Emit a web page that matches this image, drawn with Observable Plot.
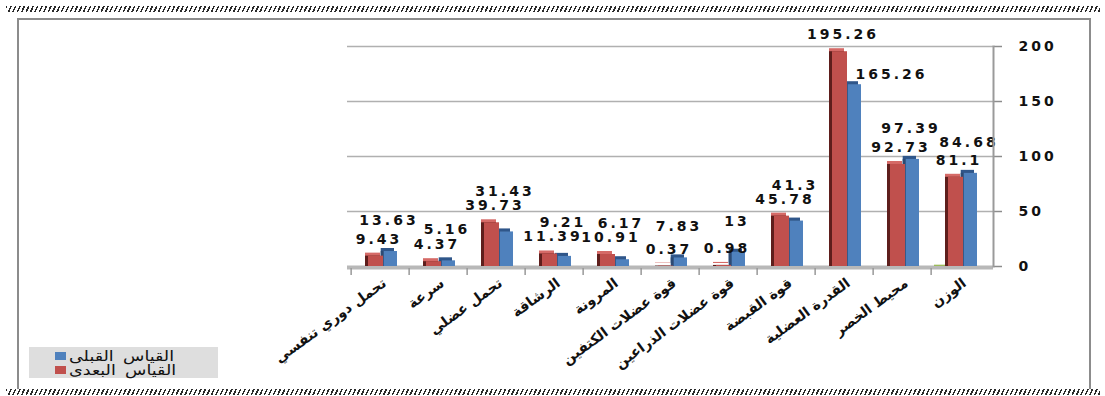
<!DOCTYPE html>
<html>
<head>
<meta charset="utf-8">
<script src="https://cdn.jsdelivr.net/npm/d3@7"></script>
<script src="https://cdn.jsdelivr.net/npm/@observablehq/plot@0.6"></script>
<style>
  html, body { margin: 0; padding: 0; background: #fff; }
  #wrap { position: relative; width: 1105px; height: 396px; overflow: hidden; background: #fff; }
  #frame { position: absolute; left: 17px; top: 18px; width: 1074px; height: 372px; border: 2px solid #8c8c8c; border-bottom: none; box-sizing: border-box; }
  .hatch { position: absolute; left: 6px; width: 1094px; height: 6px;
    background: repeating-linear-gradient(115deg, #2a2a2a 0 1.5px, #ffffff 1.5px 4px); }
  #chart { position: absolute; left: 0; top: 0; }
  #legend { position: absolute; left: 29px; top: 347px; width: 189px; height: 31px; background: #dedede;
    font-family: "DejaVu Sans", sans-serif; font-size: 14px; color: #111; }
  .item { position: absolute; left: 26px; height: 14px; display: flex; align-items: center; white-space: nowrap; }
  .sw { width: 11px; height: 8px; margin-right: 3px; flex: none; }
  .lt { display: inline-block; transform: scaleX(1.25); transform-origin: left center; word-spacing: 3px; }
  .num { letter-spacing: 3px; }
</style>
</head>
<body>
<div id="wrap">
  <div id="frame"></div>
  <div class="hatch" style="top:6px"></div>
  <div class="hatch" style="top:389px"></div>
  <div id="chart"></div>
  <div id="legend"></div>
</div>
<script>
// Categories, left to right as drawn
const categories = ["تحمل دوري تنفسي", "سرعة", "تحمل عضلي", "الرشاقة", "المرونة",
  "قوة عضلات الكتفين", "قوة عضلات الذراعين", "قوة القبضة", "القدرة العضلية", "محيط الخصر", "الوزن"];
// القياس القبلى (blue)
const beforeValues = [13.63, 5.16, 31.43, 9.21, 6.17, 7.83, 13, 41.3, 165.26, 97.39, 84.68];
// القياس البعدى (red)
const afterValues = [9.43, 4.37, 39.73, 11.39, 10.91, 0.37, 0.98, 45.78, 195.26, 92.73, 81.1];
// small unlabeled third series (green sliver)
const thirdValues = [0, 0, 0, 0, 0, 0, 0, 0, 0, 0, 1.2];
const yTicks = [0, 50, 100, 150, 200];
const seriesNames = ["القياس القبلى", "القياس البعدى"];
const seriesColors = ["#4f81bd", "#c0504d"];

const rows = categories.map((c, i) => ({
  cat: c, before: beforeValues[i], after: afterValues[i], third: thirdValues[i]
}));
const stacked = rows.filter(d => d.after - d.before < 20);
const free = rows.filter(d => d.after - d.before >= 20);

const numFont = {fontFamily: "DejaVu Sans", fontSize: 14, fontWeight: "bold", fill: "#111", className: "num"};

const blueIn = {insetLeft: 32.7, insetRight: 12};
const redIn = {insetLeft: 17, insetRight: 26};
const greenIn = {insetLeft: 3, insetRight: 41.7};

const chart = Plot.plot({
  width: 1105,
  height: 396,
  marginLeft: 347,
  marginRight: 112,
  marginTop: 46,
  marginBottom: 130,
  style: {background: "transparent", fontFamily: "DejaVu Sans", overflow: "visible"},
  x: {domain: categories, padding: 0, label: null},
  y: {domain: [0, 200], label: null},
  marks: [
    Plot.ruleY(yTicks.slice(1), {stroke: "#b0b0b0", strokeWidth: 1.5}),
    Plot.ruleY([0], {stroke: "#b8b8b8", strokeWidth: 4, dy: 1}),
    // green sliver
    Plot.barY(rows, {x: "cat", y: "third", fill: "#9bbb59", ...greenIn}),
    // blue bars (3D-ish)
    Plot.barY(rows, {x: "cat", y: "before", fill: "#2f568a", dx: -3, dy: -3, ...blueIn}),
    Plot.barY(rows, {x: "cat", y: "before", fill: "#2c4a73", dx: -3, ...blueIn}),
    Plot.barY(rows, {x: "cat", y: "before", fill: seriesColors[0], ...blueIn}),
    // red bars (3D-ish)
    Plot.barY(rows, {x: "cat", y: "after", fill: "#d56a67", dx: -3, dy: -3, ...redIn}),
    Plot.barY(rows, {x: "cat", y: "after", fill: "#5e1e1c", dx: -3, ...redIn}),
    Plot.barY(rows, {x: "cat", y: "after", fill: seriesColors[1], ...redIn}),
    // value labels
    Plot.text(rows, {x: "cat", y: "after", text: d => String(d.after), dx: -1.5, dy: -17, ...numFont}),
    Plot.text(stacked, {x: "cat", y: d => Math.max(d.after, d.before), text: d => String(d.before), dx: 8.5, dy: -31, ...numFont}),
    Plot.text(free, {x: "cat", y: "before", text: d => String(d.before), dx: 47, dy: -10, ...numFont}),
    // axes
    Plot.axisY({anchor: "right", ticks: yTicks, tickSize: 8, tickPadding: 17, label: null,
      fontSize: 14, fontWeight: "bold", fill: "#111", stroke: "#8c8c8c", strokeWidth: 1.5, className: "num"}),
    Plot.frame({anchor: "right", stroke: "#9a9a9a", strokeWidth: 2}),
    Plot.axisX({tickSize: 7, tickFormat: () => "", dx: -29.36, label: null, stroke: "#999", strokeWidth: 1.5, dy: 2}),
    Plot.axisX({tickSize: 0, tickRotate: -36, tickPadding: 15, label: null, dx: 4,
      fontSize: 14, fontWeight: "bold", fill: "#111", fontFamily: "DejaVu Sans"})
  ]
});
document.getElementById("chart").appendChild(chart);
d3.select(chart).selectAll(".num text, text.num, g.num text").style("letter-spacing", "3px");

const legend = document.getElementById("legend");
seriesNames.forEach((name, i) => {
  const item = document.createElement("div");
  item.className = "item";
  item.style.top = (i === 0 ? 2 : 16) + "px";
  item.innerHTML = `<div class="sw" style="background:${seriesColors[i]}"></div><span class="lt">${name}</span>`;
  legend.appendChild(item);
});
</script>
</body>
</html>
